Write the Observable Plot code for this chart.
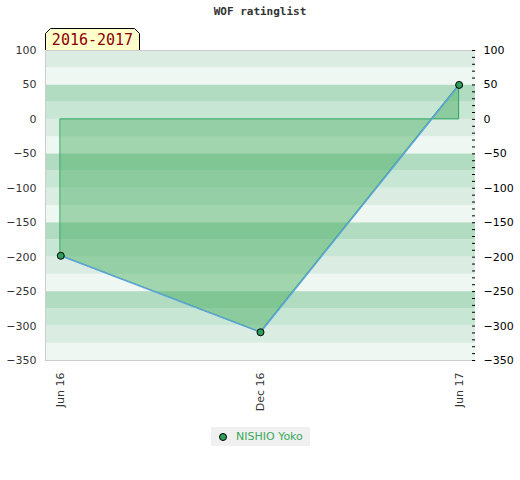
<!DOCTYPE html>
<html>
<head>
<meta charset="utf-8">
<script src="https://cdn.jsdelivr.net/npm/d3@7"></script>
<script src="https://cdn.jsdelivr.net/npm/@observablehq/plot@0.6"></script>
<style>
  body { margin: 0; background: #fff; }
  #wrap { position: relative; width: 520px; height: 480px; font-family: "DejaVu Sans", sans-serif; }
  #title { position: absolute; left: 0; width: 520px; top: 5px; text-align: center; font: bold 11px "DejaVu Sans Mono", monospace; color: #333; }
  #season { position: absolute; left: 45px; top: 28px; width: 95px; height: 22px; }
  #legend { position: absolute; left: 211px; top: 427px; width: 99px; height: 19px; background: #f0f0f0; font-size: 11px; color: #3aaa5a; }
  #legend .dot { position: absolute; left: 8px; top: 6px; width: 6px; height: 6px; border-radius: 50%; background: #2e9e5b; border: 1px solid #000; }
  #legend .txt { position: absolute; left: 25px; top: 3px; }
</style>
</head>
<body>
<div id="wrap">
  <div id="chart"></div>
  <div id="title">WOF ratinglist</div>
  <svg id="season" width="95" height="22">
    <path d="M0.5,22 L0.5,5.5 L5.5,0.5 L89.5,0.5 L94.5,5.5 L94.5,22" fill="#ffffcc" stroke="#000" stroke-width="1"/>
    <text x="47.5" y="17" text-anchor="middle" font-family="DejaVu Sans Mono, monospace" font-size="15" fill="#8b0000">2016-2017</text>
  </svg>
  <div id="legend"><span class="dot"></span><span class="txt">NISHIO Yoko</span></div>
</div>
<script>
const dates = ["2016-06-01", "2016-12-01", "2017-06-01"];
const ratings = [-198, -309, 50];
const player = "NISHIO Yoko";
const yTicks = [100, 50, 0, -50, -100, -150, -200, -250, -300, -350];
const xTickDates = ["2016-06-01", "2016-12-01", "2017-06-01"];
const xTickLabels = ["Jun 16", "Dec 16", "Jun 17"];
const bandStarts = d3.range(-350, 100, 25);
const bandColors = ["#dbede2", "#eef7f1", "#b2dcc2", "#c8e6d4"];

const data = dates.map((d, i) => ({date: new Date(d), rating: ratings[i], player}));
const bands = bandStarts.map(v => ({y1: v, y2: v + 25, color: bandColors[((100 - (v + 25)) / 25 % 4 + 4) % 4]}));
const minorTicks = d3.range(-350, 101, 10);
const xt = xTickDates.map(d => new Date(d));
const fmt = d => xTickLabels[xt.findIndex(t => +t === +d)];

const chart = Plot.plot({
  width: 520,
  height: 480,
  marginLeft: 45,
  marginRight: 45,
  marginTop: 50,
  marginBottom: 120,
  style: {fontFamily: "DejaVu Sans, sans-serif", fontSize: "11px", color: "#333", background: "transparent"},
  x: {type: "time", domain: [new Date("2016-05-18"), new Date("2017-06-16")]},
  y: {domain: [-350, 100]},
  marks: [
    Plot.rectY(bands, {y1: "y1", y2: "y2", fill: "color"}),
    Plot.areaY(data, {x: "date", y1: 0, y2: "rating", fill: "#41ab5d", fillOpacity: 0.45, stroke: "#2ca25f", strokeWidth: 1}),
    Plot.line(data, {x: "date", y: "rating", stroke: "#5ea3dc", strokeWidth: 1.5}),
    Plot.dot(data, {x: "date", y: "rating", r: 3.5, fill: "#2e9e5b", stroke: "#000", strokeWidth: 1}),
    Plot.frame({stroke: "#ccc", anchor: "left"}),
    Plot.frame({stroke: "#ccc", anchor: "top"}),
    Plot.frame({stroke: "#ccc", anchor: "bottom"}),
    Plot.axisY({anchor: "left", ticks: yTicks, tickSize: 0, tickPadding: 9, label: null, fill: "#333"}),
    Plot.axisY({anchor: "right", ticks: yTicks, tickSize: 0, tickPadding: 8, label: null, fill: "#000"}),
    Plot.tickY(minorTicks, {y: d => d, stroke: "#000", insetLeft: 427, strokeWidth: 1}),
    Plot.axisX({ticks: xt, tickFormat: fmt, tickSize: 0, tickRotate: -90, tickPadding: 12, label: null, fill: "#333"})
  ]
});
document.getElementById("chart").appendChild(chart);
</script>
</body>
</html>
